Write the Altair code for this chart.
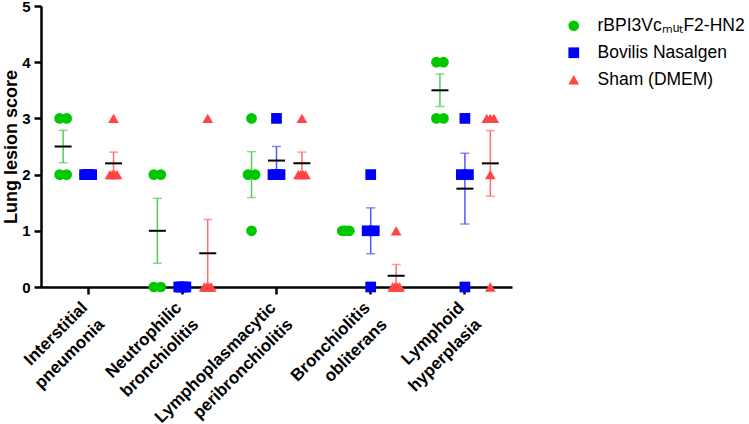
import altair as alt
import numpy as np
import pandas as pd

# Lesion categories ("|" marks the label line break)
categories = [
    "Interstitial|pneumonia",
    "Neutrophilic|bronchiolitis",
    "Lymphoplasmacytic|peribronchiolitis",
    "Bronchiolitis|obliterans",
    "Lymphoid|hyperplasia",
]
groups = ["rBPI3VcₘᵤₜF2-HN2", "Bovilis Nasalgen", "Sham (DMEM)"]

# Individual animal scores per category
vaccine_scores = [[3, 3, 2, 2], [2, 2, 0, 0], [3, 2, 2, 1], [1, 1, 1, 1], [4, 4, 3, 3]]
bovilis_scores = [[2, 2, 2, 2], [0, 0, 0, 0], [3, 2, 2, 2], [2, 1, 1, 0], [3, 2, 2, 0]]
sham_scores = [[3, 2, 2, 2, 2], [3, 0, 0, 0, 0], [3, 2, 2, 2, 2], [1, 0, 0, 0, 0], [3, 3, 3, 2, 0]]

point_colors = ["#00C800", "#0000FF", "#FF4545"]
bar_colors = ["#55CC55", "#5555FF", "#FF6E6E"]
shapes = ["circle", "square", "triangle-up"]

group_shift = [-0.265, 0.0, 0.27]  # fraction of the category band
spread = 0.075                      # horizontal spread of tied values

rows, stats = [], []
for gi, (g, table) in enumerate(zip(groups, [vaccine_scores, bovilis_scores, sham_scores])):
    for ci, cat in enumerate(categories):
        vals = table[ci]
        counts = {}
        for v in vals:
            counts[v] = counts.get(v, 0) + 1
        seen = {}
        for v in vals:
            k = counts[v]
            i = seen.get(v, 0)
            seen[v] = i + 1
            jit = 0.0 if k == 1 else (i / (k - 1) - 0.5) * spread
            rows.append({"category": cat, "group": g, "score": v, "off": group_shift[gi] + jit})
        arr = np.array(vals, dtype=float)
        m = arr.mean()
        sem = arr.std(ddof=1) / np.sqrt(len(arr))
        stats.append({"category": cat, "group": g, "mean": m, "lo": m - sem, "hi": m + sem,
                      "off": group_shift[gi], "barcolor": bar_colors[gi]})

points = pd.DataFrame(rows)
summary = pd.DataFrame(stats)

x_enc = alt.X("category:N", sort=categories, title=None,
              scale=alt.Scale(paddingInner=0, paddingOuter=0),
              axis=alt.Axis(labelAngle=-45, labelAlign="right", labelBaseline="top",
                            labelExpr="split(datum.label, '|')",
                            labelFontSize=17, labelLineHeight=24, labelPadding=5,
                            labelOffset=-9))
off_enc = alt.XOffset("off:Q", scale=alt.Scale(domain=[-0.5, 0.5]))
y_scale = alt.Scale(domain=[0, 5], nice=False)

err = alt.Chart(summary).mark_rule(strokeWidth=1.5).encode(
    x=x_enc, xOffset=off_enc,
    y=alt.Y("lo:Q", scale=y_scale), y2="hi:Q",
    color=alt.Color("barcolor:N", scale=None),
)
caps_lo = alt.Chart(summary).mark_tick(size=9, thickness=1.5).encode(
    x=x_enc, xOffset=off_enc, y=alt.Y("lo:Q", scale=y_scale),
    color=alt.Color("barcolor:N", scale=None),
)
caps_hi = alt.Chart(summary).mark_tick(size=9, thickness=1.5).encode(
    x=x_enc, xOffset=off_enc, y=alt.Y("hi:Q", scale=y_scale),
    color=alt.Color("barcolor:N", scale=None),
)
means = alt.Chart(summary).mark_tick(size=17, thickness=2, color="black", opacity=1).encode(
    x=x_enc, xOffset=off_enc, y=alt.Y("mean:Q", scale=y_scale),
)
dots = alt.Chart(points).mark_point(filled=True, strokeWidth=0, size=115).encode(
    x=x_enc, xOffset=off_enc,
    y=alt.Y("score:Q", scale=y_scale, title="Lung lesion score",
            axis=alt.Axis(values=[0, 1, 2, 3, 4, 5], format="d", labelFontSize=15,
                          labelPadding=4, titleFontSize=18, titlePadding=1)),
    color=alt.Color("group:N", sort=groups,
                    scale=alt.Scale(domain=groups, range=point_colors),
                    legend=alt.Legend(title=None, orient="none", legendX=524, legendY=11,
                                      labelFontSize=17.5, labelFont="Liberation Sans",
                                      labelFontWeight="normal", labelColor="black",
                                      rowPadding=8, symbolSize=115, symbolOpacity=1,
                                      symbolStrokeWidth=0, labelOffset=15)),
    shape=alt.Shape("group:N", sort=groups, scale=alt.Scale(domain=groups, range=shapes)),
    opacity=alt.value(1),
)

chart = alt.layer(err, caps_lo, caps_hi, means, dots).properties(
    width=471, height=281,
    autosize=alt.AutoSizeParams(type="none"),
    padding={"left": 41, "top": 6, "right": 237, "bottom": 137},
).configure_view(stroke=None).configure_axis(
    grid=False, domainColor="black", domainWidth=2.5, tickColor="black", tickWidth=2.5,
    tickSize=7, labelFont="Liberation Sans", labelFontWeight="bold", labelColor="black",
    titleFont="Liberation Sans", titleFontWeight="bold", titleColor="black",
).configure_legend(symbolOpacity=1)

chart.save("out.html", embed_options={"renderer": "svg", "actions": False})
